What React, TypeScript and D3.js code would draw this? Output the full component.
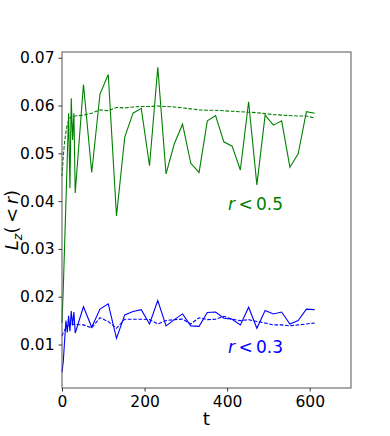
import React, { useRef, useEffect } from "react";
import * as d3 from "d3";

// sample times (dense at the start, then every 20)
const times = [
  0, 3.2, 6.4, 9.6, 12.8, 16, 19.2, 22.4, 25.6, 28.8, 32,
  52, 72, 92, 112, 132, 152, 172, 192, 212, 232, 252, 272, 292, 312, 332,
  352, 372, 392, 412, 432, 452, 472, 492, 512, 532, 552, 572, 592, 612,
];

// r < 0.5, instantaneous
const outerRaw = [
  0.0145, 0.022, 0.031, 0.040, 0.049, 0.0584, 0.0427, 0.0615, 0.0528, 0.0584, 0.0417,
  0.0644, 0.0460, 0.0624, 0.0665, 0.0369, 0.0534, 0.0584, 0.0594, 0.0474, 0.0680,
  0.0457, 0.0520, 0.0561, 0.0479, 0.0460, 0.0568, 0.0579, 0.0524, 0.0515, 0.0465,
  0.0608, 0.0434, 0.0580, 0.0559, 0.0568, 0.0471, 0.0499, 0.0587, 0.0584,
];

// r < 0.5, averaged
const outerAvg = [
  0.0452, 0.0495, 0.0525, 0.0545, 0.0560, 0.0568, 0.0574, 0.0577, 0.0578, 0.0578, 0.0578,
  0.0580, 0.0584, 0.0591, 0.0589, 0.0596, 0.0595, 0.0597, 0.0598, 0.0598, 0.0599,
  0.0598, 0.0597, 0.0595, 0.0593, 0.0591, 0.0590, 0.0590, 0.0589, 0.0588, 0.0587,
  0.0586, 0.0585, 0.0583, 0.0581, 0.0580, 0.0579, 0.0578, 0.0578, 0.0574,
];

// r < 0.3, instantaneous
const innerRaw = [
  0.0042, 0.0065, 0.0110, 0.0150, 0.0125, 0.0160, 0.0128, 0.0170, 0.0140, 0.0168, 0.0124,
  0.0179, 0.0136, 0.0174, 0.0185, 0.0113, 0.0162, 0.0169, 0.0173, 0.0143, 0.0192,
  0.0139, 0.0152, 0.0164, 0.0139, 0.0138, 0.0167, 0.0168, 0.0155, 0.0153, 0.0141,
  0.0178, 0.0134, 0.0171, 0.0164, 0.0168, 0.0143, 0.0150, 0.0174, 0.0173,
];

// r < 0.3, averaged
const innerAvg = [
  0.0118, 0.0125, 0.0130, 0.0135, 0.0138, 0.0140, 0.0142, 0.0143, 0.0143, 0.0142, 0.0142,
  0.0141, 0.0135, 0.0156, 0.0148, 0.0134, 0.0153, 0.0153, 0.0153, 0.0152, 0.0143,
  0.0150, 0.0152, 0.0153, 0.0143, 0.0156, 0.0152, 0.0153, 0.0159, 0.0153, 0.0150,
  0.0152, 0.0148, 0.0145, 0.0141, 0.0141, 0.0139, 0.0141, 0.0143, 0.0145,
];

const xTicks = [0, 200, 400, 600];
const yTicks = [0.01, 0.02, 0.03, 0.04, 0.05, 0.06, 0.07];

const App = () => {
  const svgRef = useRef<SVGSVGElement>(null);

  const width = 390;
  const height = 436;
  const margin = { top: 52, right: 39, bottom: 48, left: 62 };
  const font = "'DejaVu Sans', sans-serif";

  useEffect(() => {
    const svg = d3.select(svgRef.current);
    svg.selectAll("*").remove();

    const x = d3.scaleLinear().domain([0, 700]).range([margin.left, width - margin.right]);
    const y = d3.scaleLinear().domain([0.0009, 0.0712]).range([height - margin.bottom, margin.top]);

    const line = d3
      .line<number>()
      .x((_, i) => x(times[i]))
      .y(d => y(d));

    const series = [
      { values: outerRaw, color: "#008000", dash: null },
      { values: outerAvg, color: "#008000", dash: "3.7,1.6" },
      { values: innerRaw, color: "#0000ff", dash: null },
      { values: innerAvg, color: "#0000ff", dash: "3.7,1.6" },
    ];

    series.forEach(s => {
      svg
        .append("path")
        .attr("d", line(s.values))
        .attr("fill", "none")
        .attr("stroke", s.color)
        .attr("stroke-width", 1.1)
        .attr("stroke-dasharray", s.dash);
    });

    // frame
    svg
      .append("rect")
      .attr("x", margin.left)
      .attr("y", margin.top)
      .attr("width", width - margin.left - margin.right)
      .attr("height", height - margin.top - margin.bottom)
      .attr("fill", "none")
      .attr("stroke", "#555")
      .attr("stroke-width", 1);

    // axes
    const xAxis = svg
      .append("g")
      .attr("transform", `translate(0,${height - margin.bottom})`)
      .call(d3.axisBottom(x).tickValues(xTicks).tickFormat(d3.format("d")).tickSize(3.5).tickPadding(4));
    const yAxis = svg
      .append("g")
      .attr("transform", `translate(${margin.left},0)`)
      .call(d3.axisLeft(y).tickValues(yTicks).tickFormat(d3.format(".2f")).tickSize(3.5).tickPadding(4));

    [xAxis, yAxis].forEach(ax => {
      ax.select(".domain").remove();
      ax.selectAll("line").attr("stroke", "#333");
      ax.selectAll("text")
        .attr("fill", "#000")
        .style("font-family", font)
        .style("font-size", "15.5px");
    });

    // axis titles
    svg
      .append("text")
      .attr("x", (margin.left + width - margin.right) / 2)
      .attr("y", 425)
      .attr("text-anchor", "middle")
      .style("font-family", font)
      .style("font-size", "18.5px")
      .text("t");

    const yl = svg
      .append("text")
      .attr("transform", `translate(18,${(margin.top + height - margin.bottom) / 2}) rotate(-90)`)
      .attr("text-anchor", "middle")
      .style("font-family", font)
      .style("font-size", "18px");
    yl.append("tspan").style("font-style", "italic").text("L");
    yl.append("tspan").style("font-style", "italic").style("font-size", "12.5px").attr("dy", 4).text("z");
    yl.append("tspan").attr("dy", -4).text("(\u2009<\u2009");
    yl.append("tspan").style("font-style", "italic").text("r");
    yl.append("tspan").text(")");

    // labels
    const labels = [
      { text: "0.5", color: "#008000", y: 210 },
      { text: "0.3", color: "#0000ff", y: 353 },
    ];
    labels.forEach(l => {
      const t = svg
        .append("text")
        .attr("x", 228)
        .attr("y", l.y)
        .attr("fill", l.color)
        .style("font-family", font)
        .style("font-size", "17px");
      t.append("tspan").style("font-style", "italic").text("r");
      t.append("tspan").text("\u2009<\u2009" + l.text);
    });
  }, []);

  return (
    <svg
      ref={svgRef}
      width={width}
      height={height}
      style={{ position: "absolute", left: 0, top: 0, background: "#fff" }}
    />
  );
};

export default App;
